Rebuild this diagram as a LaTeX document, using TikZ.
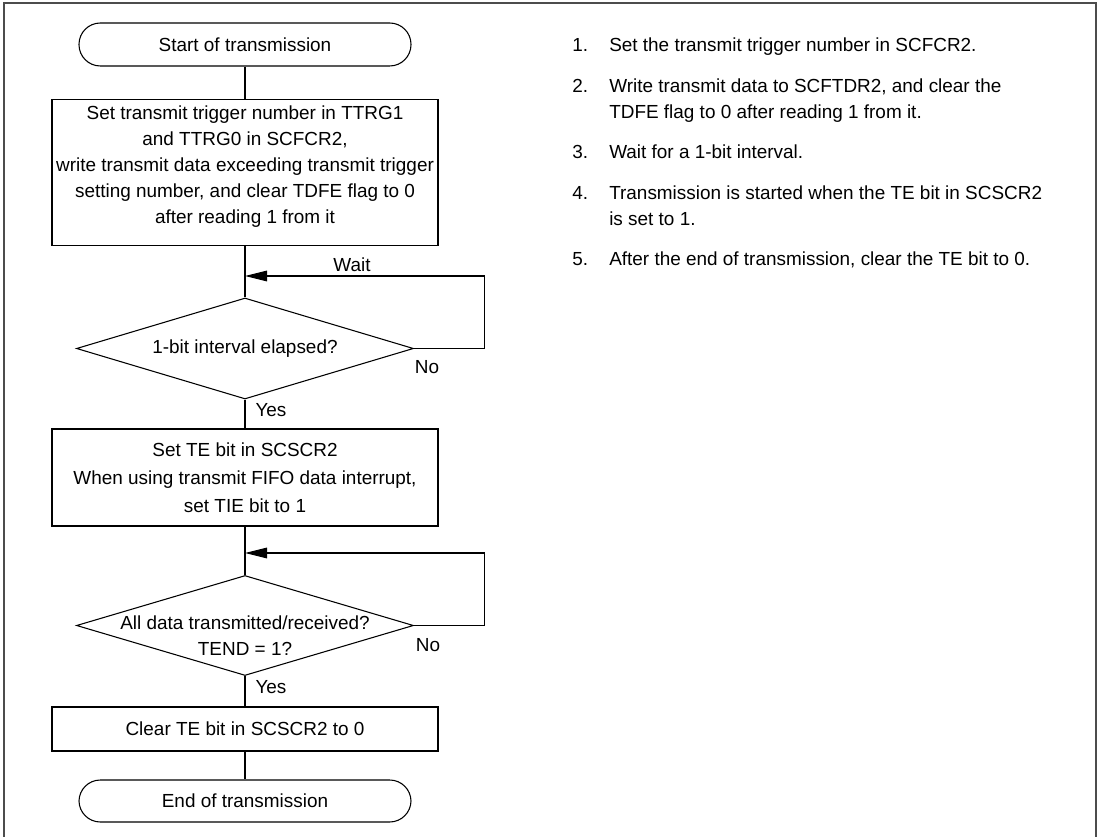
\documentclass[tikz,border=0pt]{standalone}
\usepackage{fontspec}
\setmainfont{Liberation Sans}
\usetikzlibrary{shapes.geometric,arrows.meta}
\begin{document}
\begin{tikzpicture}[x=0.75pt,y=-0.75pt,
  every node/.style={font=\fontsize{14.2}{19.5}\selectfont, inner sep=0pt},
  term/.style={draw, line width=0.8pt, rounded corners=16pt, minimum width=249pt, minimum height=32.25pt},
  procbox/.style={draw, line width=0.8pt, minimum width=289.5pt, align=center},
  decision/.style={draw, line width=0.8pt, diamond, aspect=3.34, minimum width=252.75pt, minimum height=75.75pt, inner sep=0pt},
  flow/.style={line width=0.8pt},
  loopflow/.style={line width=0.8pt, -{Triangle[length=16.5pt,width=8pt]}},
  lbl/.style={font=\fontsize{14.2}{17}\selectfont},
  frame/.style={line width=1.6pt, draw=black!70},
  item/.style={anchor=north west, align=left, font=\fontsize{14.2}{19.1}\selectfont}
]
\useasboundingbox (0,0) rectangle (1099,837);
\draw[frame] (4,837) -- (4,3) -- (1096,3) -- (1096,837);

\node[term] (start) at (245,44.5) {Start of transmission};
\node[procbox, minimum height=109.5pt] (b1) at (245,172.5)
  {\raisebox{1.2pt}[0pt][0pt]{\begin{tabular}{@{}c@{}}Set transmit trigger number in TTRG1\\ and TTRG0 in SCFCR2,\\ write transmit data exceeding transmit trigger\\ setting number, and clear TDFE flag to 0\\ after reading 1 from it\end{tabular}}};
\node[decision] (d1) at (245,348.5) {1-bit interval elapsed?};
\node[procbox, minimum height=72.75pt, font=\fontsize{14.2}{21}\selectfont] (b2) at (245,477.5)
  {Set TE bit in SCSCR2\\ When using transmit FIFO data interrupt,\\ set TIE bit to 1};
\node[decision, minimum height=75pt] (d2) at (245,625.5)
  {\raisebox{-12.5pt}[0pt][0pt]{\begin{tabular}{@{}c@{}}All data transmitted/received?\\ TEND = 1?\end{tabular}}};
\node[procbox, minimum height=33pt] (b3) at (245,729) {Clear TE bit in SCSCR2 to 0};
\node[term, minimum height=31.5pt] (end) at (245,801) {End of transmission};

\draw[flow] (start) -- (b1);
\draw[flow] (b1) -- (d1);
\draw[flow] (d1) -- (b2);
\draw[flow] (b2) -- (d2);
\draw[flow] (d2) -- (b3);
\draw[flow] (b3) -- (end);

\coordinate (j1) at (245,276);
\coordinate (j2) at (245,553);
\draw[loopflow] (d1.east) -- ++(70,0) |- (j1);
\draw[loopflow] (d2.east) -- ++(70,0) |- (j2);

\node[lbl] (wait) at (352,265) {Wait};
\node[lbl] (no1) at (427,367) {No};
\node[lbl] (yes1) at (271,410) {Yes};
\node[lbl] (no2) at (428,645) {No};
\node[lbl] (yes2) at (271,687) {Yes};

\node[item] (n1) at (572,38) {1.};
\node[item] (t1) at (609,38) {Set the transmit trigger number in SCFCR2.};
\node[item] (n2) at (572,79) {2.};
\node[item] (t2) at (609,79) {Write transmit data to SCFTDR2, and clear the\\ TDFE flag to 0 after reading 1 from it.};
\node[item] (n3) at (572,145) {3.};
\node[item] (t3) at (609,145) {Wait for a 1-bit interval.};
\node[item] (n4) at (572,186) {4.};
\node[item] (t4) at (609,186) {Transmission is started when the TE bit in SCSCR2\\ is set to 1.};
\node[item] (n5) at (572,252) {5.};
\node[item] (t5) at (609,252) {After the end of transmission, clear the TE bit to 0.};
\end{tikzpicture}
\end{document}
